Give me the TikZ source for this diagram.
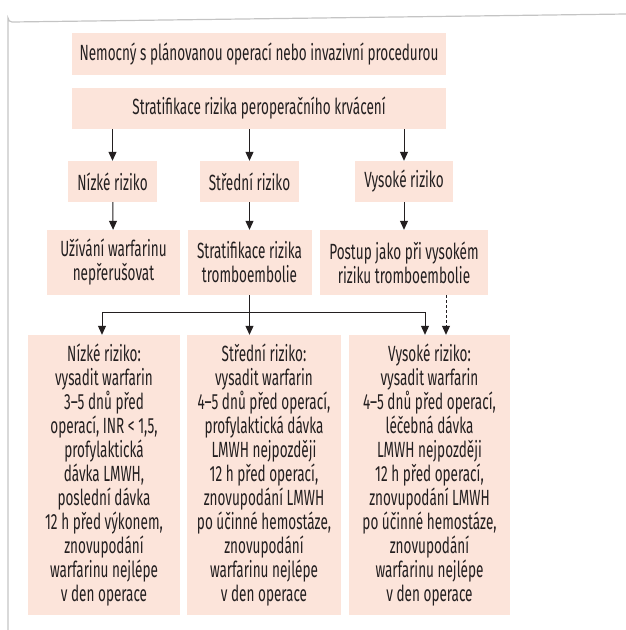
\documentclass[tikz,border=0pt]{standalone}
\usepackage{fontspec}
\setmainfont[FakeStretch=0.615]{Fira Sans}
\usetikzlibrary{arrows.meta,calc}
\definecolor{boxpink}{HTML}{FCE4DA}
\definecolor{txtgray}{HTML}{231F20}
\definecolor{framegray}{HTML}{C4C4C4}
\tikzset{
  box/.style={fill=boxpink, text=txtgray, align=center, inner sep=0pt,
    font=\fontsize{22}{24}\selectfont},
  arr/.style={line width=1pt, draw=txtgray,
    -{Triangle[length=9pt,width=8pt]}},
  dasharr/.style={arr, dash pattern=on 3pt off 2pt}
}

\begin{document}
\begin{tikzpicture}[x=1pt,y=-1pt]
		%%%%% FRAME %%%%%
		\useasboundingbox (0,0) rectangle (626,630);
		\draw[framegray, line width=1.2pt] (8,630) -- (8,18) arc (180:90:4) -- (626,14);
		
		%%%%% TOP %%%%%
		\node[box, minimum width=374, minimum height=42] (patient) at (259,54)
			{Nemocný s plánovanou operací nebo invazivní procedurou};
		\node[box, minimum width=374, minimum height=41] (bleed) at (259,108.5)
			{Stratifikace rizika peroperačního krvácení};
		
		%%%%% BLEEDING RISK %%%%%
		\node[box, minimum width=89, minimum height=41] (lowB) at (112.5,181.5) {Nízké riziko};
		\node[box, minimum width=99, minimum height=41] (midB) at (249.5,181.5) {Střední riziko};
		\node[box, minimum width=98, minimum height=41] (highB) at (404,181.5) {Vysoké riziko};
		
		\node[box, minimum width=133, minimum height=65] (keep) at (113.5,262.5)
			{Užívání warfarinu\\nepřerušovat};
		\node[box, minimum width=124, minimum height=65] (thromb) at (249.5,262.5)
			{Stratifikace rizika\\tromboembolie};
		\node[box, minimum width=168, minimum height=65] (asHigh) at (404,262.5)
			{Postup jako při vysokém\\riziku tromboembolie};
		
		%%%%% THROMBOEMBOLIC RISK %%%%%
		\node[box, minimum width=152, minimum height=280] (lowT) at (104,475)
			{Nízké riziko:\\vysadit warfarin\\3--5 dnů před\\operací, INR < 1,5,\\profylaktická\\dávka LMWH,\\poslední dávka\\12 h před výkonem,\\znovupodání\\warfarinu nejlépe\\v den operace};
		\node[box, minimum width=154, minimum height=280] (midT) at (264,475)
			{Střední riziko:\\vysadit warfarin\\4--5 dnů před operací,\\profylaktická dávka\\LMWH nejpozději\\12 h před operací,\\znovupodání LMWH\\po účinné hemostáze,\\znovupodání\\warfarinu nejlépe\\v den operace};
		\node[box, minimum width=161, minimum height=280] (highT) at (429.5,475)
			{Vysoké riziko:\\vysadit warfarin\\4--5 dnů před operací,\\léčebná dávka\\LMWH nejpozději\\12 h před operací,\\znovupodání LMWH\\po účinné hemostáze,\\znovupodání\\warfarinu nejlépe\\v den operace};
		
		%%%%% ARROWS %%%%%
		\draw[arr] (bleed.south -| lowB) -- (lowB);
		\draw[arr] (bleed.south -| midB) -- (midB);
		\draw[arr] (bleed.south -| highB) -- (highB);
		
		\draw[arr] (lowB) -- (keep);
		\draw[arr] (midB) -- (thromb);
		\draw[arr] (highB) -- (asHigh);
		
		\coordinate (split) at (thromb.south |- 0,312);
		\coordinate (toLow) at (102,312);
		\coordinate (toHigh) at (425,312);
		\draw[line width=1pt, draw=txtgray] (thromb.south) -- (split);
		\draw[arr] (split) -- (toLow) -- (toLow |- lowT.north);
		\draw[arr] (split) -- (split |- midT.north);
		\draw[arr] (split) -- (toHigh) -- (toHigh |- highT.north);
		\draw[dasharr] (asHigh.south -| 446,0) -- (446,0 |- highT.north);
	\end{tikzpicture}
\end{document}
